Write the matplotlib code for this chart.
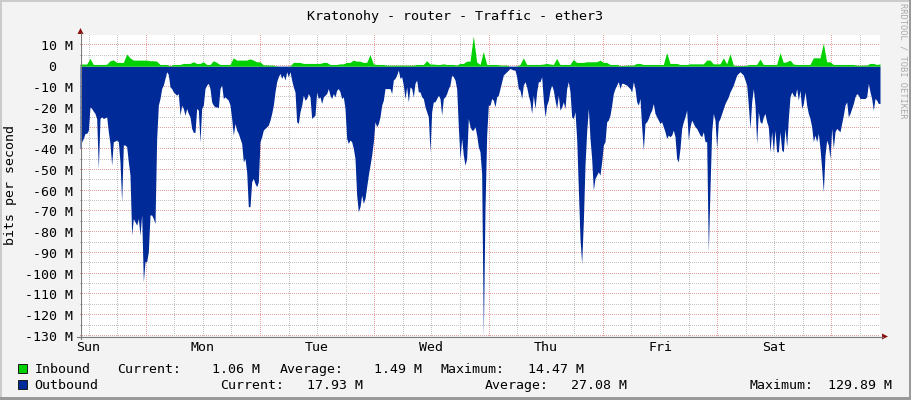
import numpy as np
import matplotlib
matplotlib.use("Agg")
import matplotlib.pyplot as plt
from matplotlib.lines import Line2D
from matplotlib.patches import Polygon, Rectangle

TITLE = "Kratonohy - router - Traffic - ether3"
Y_LABEL = "bits per second"
WATERMARK = "RRDTOOL / TOBI OETIKER"
DAY_LABELS = ["Sun", "Mon", "Tue", "Wed", "Thu", "Fri", "Sat"]
START_HOUR = 10.2        # hours after Sunday 00:00 where the graph starts
SPAN_HOURS = 168         # one week
Y_MIN, Y_MAX = -130, 15
Y_MAJOR = list(range(-130, 11, 10))

# Outbound traffic (Mbit/s), drawn below zero
outbound_mbps = [
    40, 36.4, 34.8, 32.4, 32.4, 31, 19.6, 20.4, 21.7, 22.8,
    25.2, 49.3, 25.2, 24.4, 25.2, 24.9, 24.4, 31.6, 37.2, 47.7,
    36.4, 36.1, 35.6, 36.4, 46.1, 65.3, 38.0, 38.0, 38.8, 46.1,
    52.5, 81.4, 73.4, 75.0, 76.6, 73.4, 81.4, 71.7, 103.9, 94.2,
    94.2, 89.4, 71.7, 71.7, 73.4, 75.8, 34.8, 18.8, 15.6, 10.8,
    9.1, 5.9, 2.7, 4.0, 10.0, 10.8, 12.4, 13.2, 14.0, 13.2,
    23.6, 18.8, 20.4, 23.6, 20.4, 22.8, 24.4, 30.0, 31.9, 31.9,
    20.4, 21.2, 36.4, 20.4, 18.8, 10.8, 9.1, 8.3, 10.8, 17.2,
    18.8, 19.6, 19.6, 20.1, 10.8, 9.1, 15.6, 14.8, 15.6, 16.4,
    18.8, 25.2, 33.2, 27.6, 30.8, 32.4, 34.8, 37.2, 46.1, 44.5,
    50.9, 67.7, 67.7, 55.7, 54.1, 56.5, 58.1, 55.7, 36.4, 34.0,
    30.8, 30.0, 29.2, 28.4, 26.0, 22.8, 18.8, 12.4, 7.5, 5.1,
    3.5, 5.9, 4.3, 6.7, 2.7, 5.1, 2.7, 6.7, 10.0, 12.4,
    26.8, 27.6, 22.0, 18.8, 14.0, 16.4, 15.6, 13.2, 14.8, 25.2,
    24.4, 23.6, 12.4, 15.6, 14.8, 18.0, 14.8, 14.0, 13.2, 10.8,
    14.0, 15.6, 13.2, 14.8, 11.6, 10.8,
    12.4, 15.6, 14.8, 20.4,
    34.8, 37.2, 35.6, 36.4, 39.6, 44.5, 62.1, 70.1, 67.7, 62.1,
    66.1, 63.7, 58.1, 52.5, 47.7, 42.9, 36.4, 26.8, 29.2, 27.6,
    24.4, 18.8, 16.4, 10.8, 10.8, 10.8, 10.8, 13.2, 6.7, 5.9,
    4.3, 1.9, 5.9, 5.1, 9.1, 15.6, 10.0, 17.2, 10.0, 10.8,
    14.8, 8.3, 6.7, 12.4, 12.4, 14.8, 15.6, 19.6, 22.0, 24.4,
    41.3, 22.0, 17.2, 17.2, 15.6, 14.0, 15.6, 23.6, 15.6, 14.8,
    13.2, 10.8, 9.1, 4.3, 5.1, 6.7, 10.8, 29.2, 44.5, 34.8,
    42.9, 47.7, 44.5, 25.2, 29.2, 30.8, 30.8, 29.2, 33.2, 38.8,
    41.3, 52.0, 129.89, 68.5, 33.2, 18.8, 18.8, 15.6, 16.4, 19.6,
    14.8, 14.0, 10.8, 7.5, 4.3, 3.5, 2.7, 1.9, 1.1, 1.5,
    1.9, 1.9, 5.1, 10.8, 11.6, 15.6, 9.1, 7.5, 10.0, 14.0,
    17.2, 22.8, 14.0, 20.4, 12.4, 7.5, 7.5, 5.1, 16.4, 24.4,
    18.8, 16.4, 11.6, 9.1, 11.6, 16.4, 20.4, 14.0, 21.2, 19.6,
    17.2, 20.4, 10.8, 7.5, 12.4, 24.4, 25.2, 22.0, 34.8, 58.9,
    83.0, 95.0, 75.0, 47.7, 31.6, 20.4, 34.8, 44.5, 59.7, 54.1,
    52.5, 50.9, 52.5, 46.1, 38.0, 36.4, 26.8, 26.0, 23.6, 18.8,
    13.2, 10.8, 9.1, 7.5,
    10.8, 8.3, 8.3, 8.8, 9.1, 10.0,
    10.8, 12.4, 7.5, 10.8, 17.2, 18.8, 15.6, 29.2, 40.4, 27.6,
    26.8, 25.2, 22.8, 21.2, 18.0, 22.8, 24.4, 26.0, 27.6, 26.8,
    29.2, 31.6, 34.8, 33.2, 34.0, 33.2, 30.8, 34.0, 44.5, 46.1,
    39.6, 30.0, 26.8, 24.4, 21.2, 35.6, 29.2, 26.0, 27.6, 29.2,
    30.0, 31.6, 33.2, 34.0, 31.6, 36.4, 36.4, 89.4, 58.9, 31.6,
    22.8, 26.0, 39.6, 26.8, 25.2, 22.8, 20.4, 18.0, 16.4, 14.8,
    12.4, 10.8, 9.1, 6.7, 4.3, 3.5, 2.7, 3.5, 4.3, 6.7,
    9.1, 18.8, 30.0, 17.2, 10.8, 18.8, 37.2, 22.0, 26.8, 27.6,
    24.4, 22.8, 26.8, 29.2, 41.3, 31.6, 41.3, 30.8, 41.3, 41.3,
    31.6, 40.4, 41.3, 30.0, 38.8, 25.2, 14.8, 12.4, 14.0, 14.8,
    10.8, 16.4, 11.6, 20.4, 18.0, 12.4, 18.8, 22.8, 25.2, 29.2,
    36.4, 33.2, 36.4, 32.4, 39.6, 49.3, 60.5, 42.9, 35.6, 38.0,
    44.5, 30.0, 39.6, 31.6, 30.0, 30.8, 31.6, 27.6, 23.6, 18.8,
    17.2, 24.4, 22.8, 20.4, 18.0, 14.8, 13.2, 14.0, 15.6, 15.6,
    15.6, 15.6, 14.8, 8.3, 12.4, 15.6, 21.2, 15.6, 16.4, 18.0,
    17.93,
]

# Inbound traffic (Mbit/s), drawn above zero
inbound_mbps = [
    1.0, 1.0, 1.0, 3.7, 0.8, 0.8, 0.8, 0.8, 0.9, 2.6,
    3.0, 1.8, 1.8, 1.8, 5.8, 4.0, 2.9, 2.9, 2.9, 2.9,
    2.9, 2.6, 2.6, 2.4, 0.8, 0.8, 0.8, 0.2, 0.8, 0.8,
    0.8, 1.3, 1.3, 1.3, 2.1, 1.3, 1.3, 2.1, 0.8, 0.8,
    2.6, 1.8, 0.8, 0.8, 0.8, 0.8, 4.0, 2.9, 2.9, 2.9,
    2.9, 3.5, 2.9, 2.1, 2.1, 0.6, 0.6, 0.5, 0.5, 0.1,
    0.0, 0.0, 0.0, 0.1, 1.8, 1.8, 1.8, 1.3, 1.3, 1.3,
    1.3, 1.3, 1.3, 1.8, 1.8, 0.8, 0.8, 0.8,
    1.1, 1.1, 1.8, 1.8, 2.9, 2.4, 2.4, 1.8, 1.8, 5.5,
    1.1, 0.8, 0.8, 0.8, 0.5, 0.5, 0.5, 0.5, 0.5, 0.5,
    0.5, 0.5, 0.5, 0.8, 0.8, 0.8, 2.6, 1.0, 1.0, 0.8,
    0.8, 1.1, 0.8, 0.8, 0.8, 0.5, 1.3, 1.3, 2.4, 2.4,
    14.47, 2.0, 0.8, 7.0, 0.8, 0.8, 0.8, 0.8, 0.5, 0.5,
    0.5, 0.0, 0.0, 0.1, 0.8, 4.0, 0.8, 0.8, 0.8, 0.8,
    0.8, 1.0, 1.3, 1.0, 0.8, 3.7, 0.8, 0.8, 0.8, 0.8,
    3.2, 1.8, 1.8, 1.8, 2.1, 2.1, 2.1, 2.1, 2.9, 1.8,
    1.8, 0.8, 0.8, 0.8,
    0.3, 0.3, 0.5, 0.5, 0.5, 1.3, 1.3, 0.8, 0.8, 0.8,
    0.8, 0.8, 0.8, 0.8, 6.5, 1.3, 1.3, 1.3, 0.8, 0.8,
    0.8, 1.1, 1.1, 1.1, 1.1, 1.1, 2.9, 2.9, 1.1, 1.1,
    1.1, 4.0, 1.1, 6.0, 0.5, 0.3, 0.3, 0.3, 0.5, 0.8,
    0.8, 0.8, 3.4, 0.8, 0.8, 0.8, 0.8, 0.8, 6.5, 1.8,
    2.1, 2.9, 1.0, 0.8, 0.8, 0.8, 0.8, 0.8, 4.0, 4.0,
    4.0, 11.0, 2.1, 2.1, 0.8, 0.8, 0.8, 0.8, 0.8, 0.8,
    0.8, 0.5, 0.5, 0.5, 0.5, 1.3, 1.3, 0.8, 1.06,
]

SERIES_NAMES = ["Inbound", "Outbound"]
inbound_stats = ["1.06 M", "1.49 M", "14.47 M"]      # current, average, maximum
outbound_stats = ["17.93 M", "27.08 M", "129.89 M"]

BG = "#F3F3F3"
IN_COLOR = "#00CF00"
OUT_COLOR = "#002A97"
MINOR_GRID = "#C4C4C4"
MAJOR_GRID = "#E8A0A0"

W, H = 911, 400
FS = 9.5
plt.rcParams["font.family"] = ["DejaVu Sans Mono", "DejaVu Sans"]

def fx(x):
    return x / W

def fy(y):
    return 1 - y / H

fig = plt.figure(figsize=(W / 100, H / 100), dpi=100)
fig.patch.set_facecolor(BG)

ax = fig.add_axes([fx(80), fy(336), 800 / W, 301 / H])
ax.set_facecolor("white")
ax.set_xlim(START_HOUR, START_HOUR + SPAN_HOURS)
ax.set_ylim(Y_MIN, Y_MAX)
ax.set_xticks([])
ax.set_yticks([])
for s in ax.spines.values():
    s.set_visible(False)

# dotted grid: single pixels every second pixel
x_dots = np.arange(START_HOUR, START_HOUR + SPAN_HOURS, SPAN_HOURS / 400)
y_dots = np.arange(Y_MIN, Y_MAX, (Y_MAX - Y_MIN) / 150.5)
dot_kw = dict(ls="none", marker=",", zorder=1)
for v in range(Y_MIN, Y_MAX, 5):
    col = MAJOR_GRID if v % 10 == 0 else MINOR_GRID
    ax.plot(x_dots, np.full_like(x_dots, v), color=col, **dot_kw)
h = 6
while h < START_HOUR + SPAN_HOURS:
    if h > START_HOUR:
        col = MAJOR_GRID if h % 24 == 0 else MINOR_GRID
        ax.plot(np.full_like(y_dots, h), y_dots, color=col, **dot_kw)
    h += 6

t_out = START_HOUR + np.linspace(0, SPAN_HOURS, len(outbound_mbps))
t_in = START_HOUR + np.linspace(0, SPAN_HOURS, len(inbound_mbps))
ax.fill_between(t_out, 0, -np.array(outbound_mbps), color=OUT_COLOR, lw=0, zorder=2)
ax.fill_between(t_in, 0, np.array(inbound_mbps), color=IN_COLOR, lw=0, zorder=3)

# y tick labels
ytr = ax.get_yaxis_transform()
for v in Y_MAJOR:
    if v == 0:
        ax.text((56.5 - 80) / 800, v, "0", transform=ytr, ha="right",
                va="center_baseline", fontsize=FS, color="#000000")
    else:
        ax.text((73 - 80) / 800, v, f"{v} M", transform=ytr, ha="right",
                va="center_baseline", fontsize=FS, color="#000000")

# day labels
xtr = ax.get_xaxis_transform()
for i, d in enumerate(DAY_LABELS):
    ax.text(12 + 24 * i, -(351 - 336) / 301, d, transform=xtr, ha="center",
            va="baseline", fontsize=FS, color="#000000")

# axis lines and arrows
axis_col = "#7A7A7A"
fig.add_artist(Line2D([fx(80.5), fx(80.5)], [fy(339), fy(33)], color=axis_col, lw=0.8))
fig.add_artist(Line2D([fx(77), fx(883)], [fy(336.5), fy(336.5)], color=axis_col, lw=0.8))
fig.add_artist(Polygon([(fx(77.5), fy(34)), (fx(83.5), fy(34)), (fx(80.5), fy(28))],
                       closed=True, color="#8B1010", lw=0))
fig.add_artist(Polygon([(fx(882), fy(333.5)), (fx(882), fy(339.5)), (fx(888), fy(336.5))],
                       closed=True, color="#8B1010", lw=0))

# title and labels
fig.text(fx(455.3), fy(20.3), TITLE, ha="center", va="baseline", fontsize=9.6, color="#000000")
fig.text(fx(10.5), fy(185), Y_LABEL, ha="center", va="center", rotation=90,
         fontsize=FS, color="#000000")
fig.text(fx(903), fy(61), WATERMARK, ha="center", va="center", rotation=270,
         fontsize=6.3, color="#AAAAAA")

# legend
def legend_row(yb, name, color, stats, pos):
    fig.add_artist(Rectangle((fx(17.5), fy(yb)), 9 / W, 9 / H, facecolor=color,
                             edgecolor="#1A1A1A", lw=0.7))
    fig.text(fx(34.3), fy(yb), name, ha="left", va="baseline", fontsize=FS)
    labels = ["Current:", "Average:", "Maximum:"]
    for (lx, vx), lab, val in zip(pos, labels, stats):
        fig.text(fx(lx), fy(yb), lab, ha="left", va="baseline", fontsize=FS)
        fig.text(fx(vx), fy(yb), val, ha="right", va="baseline", fontsize=FS)

legend_row(373, SERIES_NAMES[0], IN_COLOR, inbound_stats,
           [(116.7, 260), (279.3, 421.7), (440.7, 584.3)])
legend_row(389, SERIES_NAMES[1], OUT_COLOR, outbound_stats,
           [(220, 362.7), (485, 626.7), (749.3, 892.3)])

# 3D-ish frame
fig.add_artist(Rectangle((0, fy(2)), 1, 2 / H, facecolor="#CBCBCB", lw=0))
fig.add_artist(Rectangle((0, 0), 2 / W, 1, facecolor="#CBCBCB", lw=0))
fig.add_artist(Rectangle((0, 0), 1, 3 / H, facecolor="#999999", lw=0))
fig.add_artist(Rectangle((fx(909), 0), 2 / W, 1, facecolor="#999999", lw=0))

fig.savefig("out.png", dpi=100, facecolor=BG)
